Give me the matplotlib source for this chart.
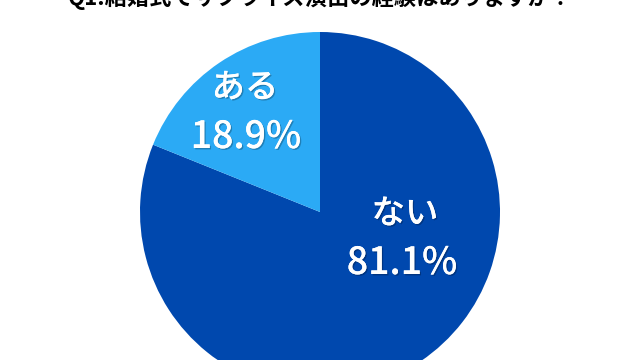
import matplotlib
matplotlib.use("Agg")
import matplotlib.pyplot as plt
import matplotlib.patheffects as pe

plt.rcParams['font.family'] = ['Noto Sans CJK JP', 'DejaVu Sans']

title = "Q1.結婚式でサプライズ演出の経験はありますか？"
labels = ["ない", "ある"]
values = [81.1, 18.9]
colors = ["#0048AE", "#2BAAF5"]

W, H = 640, 360
fig = plt.figure(figsize=(6.4, 3.6), dpi=100)
ax = fig.add_axes([0, 0, 1, 1])
cx, cy, r = 320, H - 212, 180
wedges, _ = ax.pie(values, colors=colors, startangle=90, counterclock=False,
                   center=(cx, cy), radius=r, frame=True,
                   wedgeprops=dict(linewidth=0))
ax.set_xlim(0, W)
ax.set_ylim(0, H)
ax.set_aspect('equal')
ax.axis('off')

shadow = [pe.withSimplePatchShadow(offset=(1, -1), shadow_rgbFace='black', alpha=0.25), pe.Normal()]

label_pos = {"ない": ((405, 214), (402, 263)), "ある": ((245, 88), (246, 137))}
for lab, val in zip(labels, values):
    (x1, y1), (x2, y2) = label_pos[lab]
    ax.text(x1, H - y1, lab, ha='center', va='center', color='white',
            fontsize=24, fontweight='medium', path_effects=shadow)
    ax.text(x2, H - y2, f"{val:.1f}%", ha='center', va='center', color='white',
            fontsize=27, fontweight='medium', path_effects=shadow)

ax.text(W / 2, H - 5, title, ha='center', va='baseline', color='black',
        fontsize=16, fontweight='bold')

fig.savefig("out.png", dpi=100)
